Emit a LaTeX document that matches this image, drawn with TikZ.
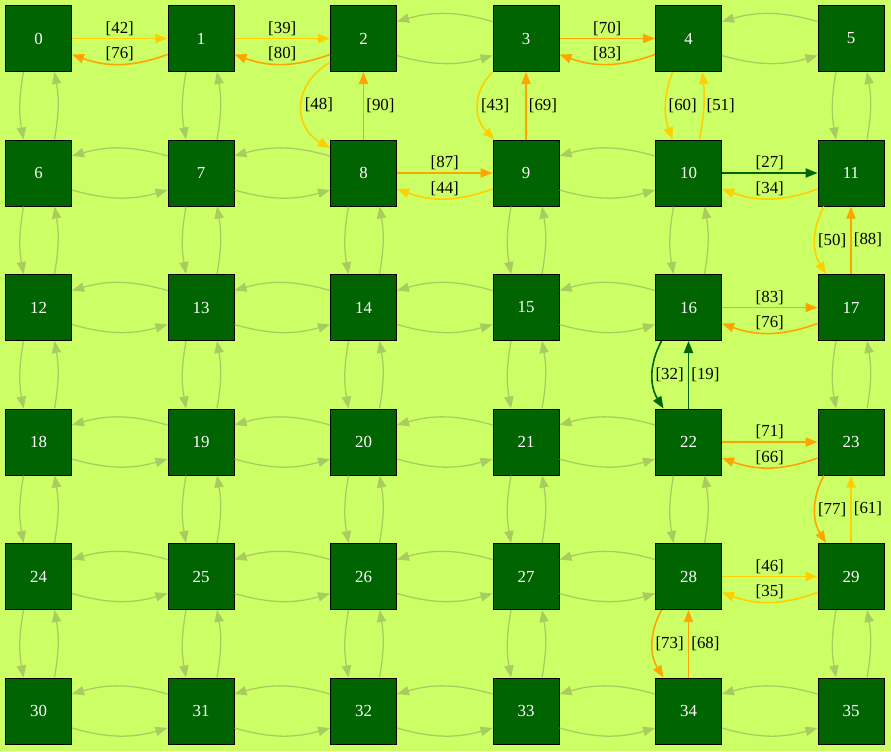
\documentclass[tikz,border=0pt]{standalone}
\usepackage{fontspec}
\setmainfont{Liberation Serif}
\usetikzlibrary{arrows.meta,calc}
\definecolor{bgcol}{HTML}{CCFF66}
\definecolor{cellgreen}{HTML}{006400}
\definecolor{fadeedge}{HTML}{A8CC60}
\definecolor{goldedge}{HTML}{FFD000}
\definecolor{orangeedge}{HTML}{FFA500}
\definecolor{darkedge}{HTML}{006400}

\begin{document}
\begin{tikzpicture}[x=0.025cm, y=0.025cm,
    cell/.style={draw=black, line width=0.7pt, fill=cellgreen, text=white, minimum size=1.65cm, inner sep=0pt, font=\fontsize{12}{14}\selectfont},
    faded/.style={-{Triangle[length=0.3cm,width=0.23cm]}, fadeedge, line width=0.9pt},
    hot/.style={-{Triangle[length=0.3cm,width=0.23cm]}, line width=1.15pt},
    wt/.style={font=\fontsize{12}{14}\selectfont, text=black, inner sep=1.5pt}
]
\fill[bgcol] (0,0) rectangle (891,-751);

% grid of cells
\foreach \r in {0,...,5}
  \foreach \c in {0,...,5} {
    \pgfmathtruncatemacro\idx{6*\r+\c}
    \node[cell] (c\idx) at ({38.5+162.5*\c},{-38.5-134.5*\r}) {\idx};
  }

% plain links, left/right
\foreach \a in {2,4,6,7,9,12,13,14,15,18,19,20,21,24,25,26,27,30,31,32,33,34} {
  \pgfmathtruncatemacro\nb{\a+1}
  \draw[faded] ($(c\a.east)+(0,-17)$) to[bend right=16] ($(c\nb.west)+(0,-17)$);
  \draw[faded] ($(c\nb.west)+(0,17)$) to[bend right=16] ($(c\a.east)+(0,17)$);
}

% plain links, up/down
\foreach \a in {0,1,5,6,7,8,9,10,12,13,14,15,17,18,19,20,21,22,24,25,26,27,29} {
  \pgfmathtruncatemacro\nb{\a+6}
  \draw[faded] ($(c\a.south)+(-15,0)$) to[bend right=10] ($(c\nb.north)+(-15,0)$);
  \draw[faded] ($(c\nb.north)+(16,0)$) to[bend right=10] ($(c\a.south)+(16,0)$);
}

% weighted links, left/right
\foreach \a/\ca/\wa/\cb/\wb in {0/goldedge/42/orangeedge/76, 1/goldedge/39/orangeedge/80,
    3/orangeedge/70/orangeedge/83, 8/orangeedge/87/goldedge/44, 10/darkedge/27/goldedge/34,
    16/orangeedge/83/orangeedge/76, 22/orangeedge/71/orangeedge/66, 28/goldedge/46/goldedge/35} {
  \pgfmathtruncatemacro\nb{\a+1}
  \draw[hot, \ca] (c\a.east) -- node[wt, above] {[\wa]} (c\nb.west);
  \draw[hot, \cb] ($(c\nb.west)+(0,-16)$) to[bend left=20] node[wt, above] {[\wb]} ($(c\a.east)+(0,-16)$);
}

% weighted links, up/down
\foreach \a/\ca/\wa/\cb/\wb in {11/goldedge/50/orangeedge/88, 16/darkedge/32/darkedge/19,
    23/orangeedge/77/goldedge/61, 28/orangeedge/73/orangeedge/68} {
  \pgfmathtruncatemacro\nb{\a+6}
  \draw[hot, \ca] ($(c\a.south)+(-27,0)$) to[bend right=30] node[wt, right] {[\wa]} ($(c\nb.north)+(-25,0)$);
  \draw[hot, \cb] (c\nb.north) -- node[wt, right] {[\wb]} (c\a.south);
}
\draw[hot, goldedge] ($(c2.west)+(0,-24)$) to[out=-150, in=150, looseness=1.3] node[wt, right] {[48]} ($(c8.west)+(0,25)$);
\draw[hot, orangeedge] (c8.north) -- node[wt, right] {[90]} (c2.south);
\draw[hot, goldedge] (c3.south west) to[out=-135, in=135, looseness=1.1] node[wt, right] {[43]} ($(c9.north west)+(2,0)$);
\draw[hot, orangeedge] (c9.north) -- node[wt, right] {[69]} (c3.south);
\draw[hot, goldedge] ($(c4.south)+(-16,0)$) to[bend right=20] node[wt, right] {[60]} ($(c10.north)+(-16,0)$);
\draw[hot, goldedge] ($(c10.north)+(11,0)$) to[bend right=8] node[wt, right] {[51]} ($(c4.south)+(14,0)$);
\end{tikzpicture}
\end{document}
